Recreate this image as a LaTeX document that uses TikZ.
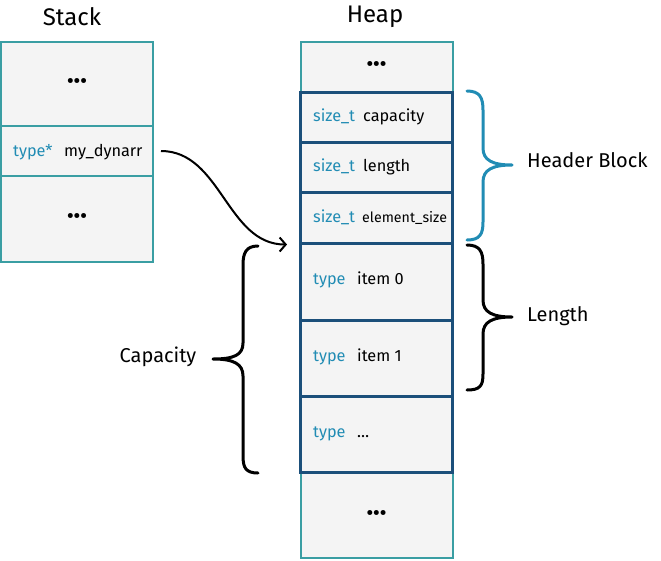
\documentclass[tikz,border=0pt]{standalone}
\usepackage{fontspec}
\setmainfont{Fira Sans}
\usetikzlibrary{arrows.meta}
\definecolor{tealb}{RGB}{58,158,163}
\definecolor{navy}{RGB}{27,79,122}
\definecolor{tblue}{RGB}{33,140,180}
\definecolor{cellbg}{RGB}{244,244,244}
\newcommand{\mydots}{{\fontsize{22}{24}\selectfont\textbullet\kern-0.5pt\textbullet\kern-0.5pt\textbullet}}
\begin{document}
\begin{tikzpicture}[x=1pt,y=-1pt,
  tcell/.style={draw=tealb,line width=2pt,fill=cellbg,minimum width=152pt,inner sep=0pt},
  ncell/.style={draw=navy,line width=3pt,fill=cellbg,minimum width=152pt,inner sep=0pt},
  ty/.style={text=tblue,anchor=base west,inner sep=0pt,font=\fontsize{16.3}{18}\selectfont},
  nm/.style={text=black,anchor=base west,inner sep=0pt,font=\fontsize{16.3}{18}\selectfont},
  title/.style={font=\fontsize{24}{28}\selectfont},
  lbl/.style={font=\fontsize{20}{24}\selectfont,inner sep=0pt},
  brace/.style={line width=3pt,line cap=round,line join=round},
  ptr/.style={line width=2pt,-{Straight Barb[length=6pt,width=14pt,line width=2pt]}}]
\useasboundingbox (0,0) rectangle (661,560);
% titles
\node[title] (st) at (72,17) {Stack};
\node[title] (hp) at (375,17) {Heap};
% stack
\node[tcell,minimum height=84pt] (s1) at (77,84) {\mydots};
\node[tcell,minimum height=50pt] (s2) at (77,151) {};
\node[tcell,minimum height=86pt] (s3) at (77,219) {\mydots};
\node[ty] (s2t) at (13,156) {type*};
\node[nm] (s2n) at (64,156) {my\_dynarr};
% heap teal cells
\node[tcell,minimum height=50pt] (h0) at (376.5,67) {\mydots};
\node[tcell,minimum height=86pt] (h7) at (376.5,515) {\mydots};
% heap navy cells
\node[ncell,minimum height=50pt] (hc) at (376.5,117) {};
\node[ncell,minimum height=50pt] (hl) at (376.5,167) {};
\node[ncell,minimum height=51pt] (he) at (376.5,217.5) {};
\node[ncell,minimum height=77pt] (hi0) at (376.5,281.5) {};
\node[ncell,minimum height=76pt] (hi1) at (376.5,358) {};
\node[ncell,minimum height=76pt] (hi2) at (376.5,434) {};
\node[ty] (hct) at (313,121.5) {size\_t};
\node[nm] (hcn) at (363,121.5) {capacity};
\node[ty] (hlt) at (313,171.5) {size\_t};
\node[nm] (hln) at (363,171.5) {length};
\node[ty] (het) at (313,222) {size\_t};
\node[nm,font=\fontsize{14.2}{16}\selectfont] (hen) at (362,222) {element\_size};
\node[ty] (hi0t) at (313,284.5) {type};
\node[nm] (hi0n) at (357,284.5) {item 0};
\node[ty] (hi1t) at (313,361.5) {type};
\node[nm] (hi1n) at (357,361.5) {item 1};
\node[ty] (hi2t) at (313,437.5) {type};
\node[nm] (hi2n) at (357,437.5) {\dots};
% pointer arrow
\draw[ptr] ([xshift=7pt]s2.east) .. controls +(60,0) and +(-60,0) .. ([xshift=-12pt]he.south west);
% braces
\draw[brace,tblue] (467,91) .. controls (480,91) and (483,98) .. (483,110) -- (483,148)
  .. controls (483,160) and (492,165) .. (512,165)
  .. controls (492,165) and (483,170) .. (483,182) -- (483,222)
  .. controls (483,234) and (480,240) .. (467,240);
\draw[brace] (467,245) .. controls (480,245) and (483,252) .. (483,264) -- (483,300)
  .. controls (483,312) and (492,317) .. (512,317)
  .. controls (492,317) and (483,322) .. (483,334) -- (483,374)
  .. controls (483,386) and (480,390) .. (467,390);
\draw[brace] (258,246) .. controls (246,246) and (243,253) .. (243,265) -- (243,343)
  .. controls (243,355) and (234,359) .. (213,359)
  .. controls (234,359) and (243,364) .. (243,376) -- (243,456)
  .. controls (243,468) and (246,473) .. (258,473);
% labels
\node[lbl,anchor=west] (hb) at (527,160) {Header Block};
\node[lbl,anchor=west] (ln) at (527,316) {Length};
\node[lbl] (cp) at (158,357) {Capacity};
\end{tikzpicture}
\end{document}
